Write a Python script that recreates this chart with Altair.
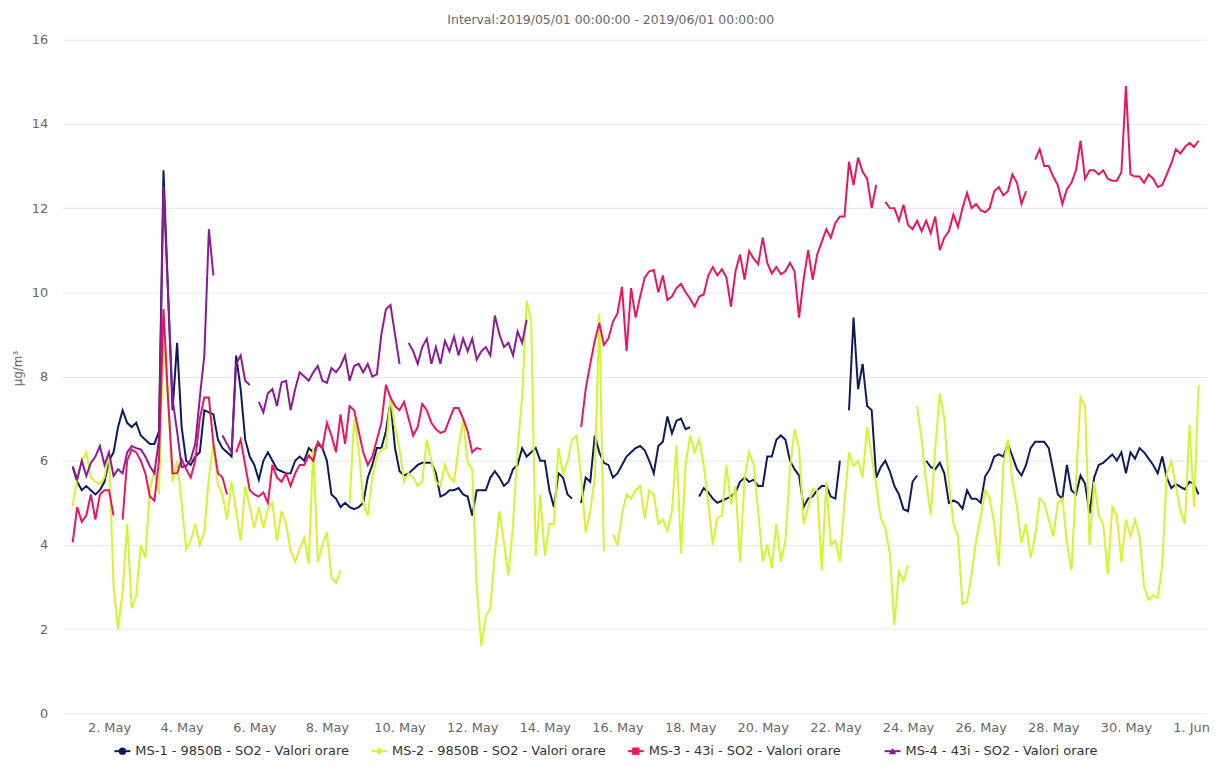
import altair as alt
import pandas as pd

N = None

SERIES = [
    "MS-1 - 9850B - SO2 - Valori orare",
    "MS-2 - 9850B - SO2 - Valori orare",
    "MS-3 - 43i - SO2 - Valori orare",
    "MS-4 - 43i - SO2 - Valori orare",
]
COLORS = ["#0d1b5e", "#d2f52e", "#ec145f", "#8c1a98"]
MARKERS = ["circle", "diamond", "square", "triangle-up"]
TITLE = "Interval:2019/05/01 00:00:00 - 2019/06/01 00:00:00"
Y_TITLE = "µg/m³"
Y_TICKS = [0, 2, 4, 6, 8, 10, 12, 14, 16]
X_TICK_DAYS = [(5, d) for d in range(2, 31, 2)] + [(6, 1)]

# hourly readings sampled every 3 hours from 2019-05-01 00:00 (8 per day), last = 2019-06-01 00:00
ms1 = [
    5.85, 5.5, 5.3, 5.4, 5.3, 5.2, 5.3, 5.5,
    6.0, 6.2, 6.8, 7.2, 6.9, 6.8, 6.9, 6.6,
    6.5, 6.4, 6.4, 6.7, 12.9, 10.0, 7.2, 8.8,
    6.8, 6.0, 5.9, 6.1, 6.2, 7.2, 7.15, 7.1,
    6.5, 6.3, 6.2, 6.1, 8.5, 7.7, 6.5, 6.1,
    5.9, 5.55, 6.0, 6.2, 6.0, 5.8, 5.75, 5.7,
    5.7, 6.0, 6.1, 6.0, 6.3, 6.2, 6.4, 6.3,
    6.0, 5.2, 5.1, 4.9, 5.0, 4.9, 4.85, 4.9,
    5.0, 5.6, 5.9, 6.3, 6.3, 6.7, 7.4, 6.3,
    5.75, 5.65, 5.7, 5.8, 5.9, 5.95, 5.95, 5.95,
    5.7, 5.15, 5.2, 5.3, 5.3, 5.35, 5.2, 5.15,
    4.7, 5.3, 5.3, 5.3, 5.6, 5.75, 5.6, 5.4,
    5.5, 5.8, 5.9, 6.3, 6.1, 6.2, 6.3, 6.0,
    6.0, 5.3, 4.9, 5.7, 5.6, 5.2, 5.1, N,
    5.0, 5.6, 5.5, 6.6, 6.2, 5.95, 5.9, 5.6,
    5.7, 5.9, 6.1, 6.2, 6.3, 6.35, 6.25, 6.0,
    5.7, 6.35, 6.45, 7.05, 6.65, 6.95, 7.0, 6.75,
    6.8, N, 5.15, 5.35, 5.25, 5.1, 5.0, 5.05,
    5.1, 5.15, 5.25, 5.5, 5.6, 5.5, 5.55, 5.4,
    5.4, 6.1, 6.1, 6.5, 6.6, 6.5, 6.0, 5.8,
    5.65, 4.9, 5.1, 5.15, 5.3, 5.4, 5.4, 5.15,
    5.1, 6.0, N, 7.2, 9.4, 7.7, 8.3, 7.3,
    7.2, 5.6, 5.85, 6.0, 5.75, 5.4, 5.2, 4.85,
    4.8, 5.5, 5.65, N, 6.0, 5.85, 5.8, 5.95,
    5.7, 5.0, 5.06, 5.0, 4.86, 5.3, 5.1, 5.1,
    5.0, 5.63, 5.8, 6.1, 6.15, 6.1, 6.4, 6.1,
    5.8, 5.65, 5.9, 6.3, 6.45, 6.45, 6.45, 6.3,
    5.75, 5.2, 5.1, 5.9, 5.3, 5.2, 5.65, 5.45,
    4.75, 5.6, 5.9, 5.95, 6.05, 6.15, 6.0, 6.2,
    5.7, 6.2, 6.05, 6.3, 6.2, 6.05, 5.9, 5.7,
    6.1, 5.6, 5.35, 5.45, 5.38, 5.32, 5.5, 5.45,
    5.2,
]

ms2 = [
    4.93, 5.56, 6.0, 6.2, 5.6, 5.5, 5.44, 5.6,
    6.2, 3.0, 2.0, 2.9, 4.5, 2.5, 2.8, 4.0,
    3.7, 5.3, 5.8, 5.2, 8.8, 7.4, 5.5, 6.0,
    5.0, 3.9, 4.1, 4.5, 4.0, 4.3, 5.6, 6.4,
    5.43, 5.2, 4.6, 5.5, 4.8, 4.1, 5.4, 4.9,
    4.4, 4.9, 4.4, 4.85, 5.0, 4.1, 4.8, 4.5,
    3.86, 3.6, 3.9, 4.17, 3.55, 6.3, 3.6, 4.0,
    4.3, 3.23, 3.1, 3.4, N, 5.0, 7.0, 6.3,
    5.0, 4.7, 5.6, 6.1, 6.27, 6.3, 7.5, 6.8,
    6.27, 5.5, 5.7, 5.6, 5.4, 5.5, 6.5, 6.0,
    5.5, 5.4, 5.9, 5.6, 5.5, 6.3, 6.98, 5.95,
    5.8, 3.0, 1.6, 2.3, 2.5, 3.82, 4.8, 4.06,
    3.27, 4.5, 6.27, 7.5, 9.8, 9.3, 3.74, 5.2,
    3.74, 4.5, 4.5, 6.3, 5.7, 5.98, 6.5, 6.6,
    5.6, 4.3, 4.8, 5.6, 9.5, 3.85, N, 4.25,
    4.0, 4.72, 5.2, 5.1, 5.3, 5.4, 4.64, 5.3,
    5.2, 4.5, 4.6, 4.33, 4.8, 6.37, 3.8, 5.9,
    6.6, 6.2, 6.5, 5.9, 5.0, 4.0, 4.64, 4.7,
    5.9, 4.96, 5.4, 3.6, 5.6, 6.2, 5.9, 4.8,
    3.6, 4.0, 3.45, 4.5, 3.6, 4.1, 5.8, 6.75,
    6.3, 4.5, 4.9, 5.33, 5.3, 3.4, 5.5, 4.0,
    4.1, 3.6, 5.02, 6.2, 5.88, 6.0, 5.6, 6.8,
    6.1, 5.4, 4.63, 4.4, 3.8, 2.1, 3.37, 3.14,
    3.53, N, 7.3, 6.5, 5.5, 4.7, 6.3, 7.6,
    7.0, 5.5, 4.5, 4.2, 2.6, 2.65, 3.3, 4.1,
    4.67, 5.3, 5.1, 4.5, 3.5, 5.9, 6.5, 5.5,
    4.9, 4.05, 4.5, 3.7, 4.2, 5.1, 5.0, 4.6,
    4.2, 5.0, 5.1, 4.05, 3.4, 5.5, 7.5, 7.3,
    4.0, 5.5, 4.7, 4.5, 3.3, 4.9, 4.7, 3.6,
    4.6, 4.2, 4.6, 4.2, 3.0, 2.7, 2.8, 2.74,
    3.5, 5.7, 5.98, 5.4, 4.8, 4.5, 6.85, 4.9,
    7.8,
]

ms3 = [
    4.06, 4.9, 4.55, 4.7, 5.2, 4.6, 5.2, 5.3,
    5.3, 4.7, N, 4.6, 6.0, 6.27, 6.2, 6.0,
    5.7, 5.15, 5.05, 6.0, 9.6, 7.5, 5.7, 5.7,
    6.03, 5.8, 5.6, 6.0, 7.0, 7.5, 7.5, 6.4,
    5.7, 5.6, 5.2, N, 6.2, 6.5, 5.9, 5.3,
    5.2, 5.15, 5.25, 5.0, 5.9, 5.6, 5.5, 5.7,
    5.4, 5.7, 5.9, 5.9, 6.13, 6.0, 6.45, 6.3,
    6.9, 6.6, 6.2, 7.1, 6.4, 7.3, 7.2, 6.7,
    6.2, 5.9, 6.1, 6.5, 6.9, 7.8, 7.5, 7.3,
    7.2, 7.4, 7.0, 6.6, 6.8, 7.35, 7.2, 6.9,
    6.75, 6.66, 6.7, 6.98, 7.25, 7.25, 7.0, 6.7,
    6.2, 6.3, 6.27, N, N, N, N, N,
    N, N, N, N, N, N, N, N,
    N, N, N, N, N, N, N, N,
    6.8, 7.7, 8.3, 8.85, 9.27, 8.75, 8.9, 9.3,
    9.5, 10.13, 8.6, 10.1, 9.4, 9.9, 10.35, 10.5,
    10.53, 10.0, 10.4, 9.82, 9.9, 10.1, 10.2, 10.0,
    9.85, 9.66, 9.9, 9.95, 10.4, 10.6, 10.4, 10.55,
    10.35, 9.66, 10.5, 10.9, 10.3, 10.98, 10.8, 10.67,
    11.3, 10.7, 10.45, 10.6, 10.43, 10.5, 10.7, 10.5,
    9.4, 10.3, 11.0, 10.3, 10.9, 11.2, 11.5, 11.3,
    11.65, 11.8, 11.8, 13.1, 12.55, 13.2, 12.86, 12.7,
    12.0, 12.55, N, 12.15, 12.0, 12.0, 11.7, 12.08,
    11.6, 11.5, 11.7, 11.45, 11.7, 11.4, 11.8, 11.0,
    11.3, 11.45, 11.85, 11.55, 12.0, 12.36, 12.0, 12.1,
    11.95, 11.9, 12.0, 12.4, 12.5, 12.3, 12.4, 12.8,
    12.6, 12.1, 12.4, N, 13.15, 13.4, 13.0, 13.0,
    12.75, 12.54, 12.1, 12.45, 12.6, 12.9, 13.6, 12.7,
    12.9, 12.9, 12.8, 12.9, 12.7, 12.65, 12.65, 12.85,
    14.9, 12.8, 12.75, 12.75, 12.6, 12.8, 12.7, 12.5,
    12.55, 12.8, 13.06, 13.4, 13.3, 13.45, 13.55, 13.45,
    13.6,
]

ms4 = [
    5.87, 5.56, 6.0, 5.64, 5.95, 6.1, 6.35, 5.9,
    6.2, 5.64, 5.8, 5.7, 6.2, 6.35, 6.3, 6.27,
    6.1, 5.87, 5.7, 6.5, 12.5, 10.0, 7.45, 6.7,
    5.85, 5.87, 6.03, 6.4, 7.5, 8.5, 11.5, 10.4,
    N, 6.6, 6.4, 6.2, 8.3, 8.5, 7.9, 7.8,
    N, 7.4, 7.15, 7.6, 7.7, 7.3, 7.86, 7.9,
    7.2, 7.7, 8.1, 8.0, 7.9, 8.1, 8.25, 7.9,
    7.85, 8.2, 8.1, 8.25, 8.5, 7.9, 8.25, 8.3,
    8.1, 8.3, 8.0, 8.05, 9.0, 9.6, 9.7, 9.0,
    8.3, N, 8.8, 8.6, 8.3, 8.7, 8.9, 8.3,
    8.7, 8.3, 8.85, 8.6, 8.95, 8.5, 8.9, 8.6,
    8.9, 8.4, 8.6, 8.7, 8.5, 9.45, 9.0, 8.7,
    8.8, 8.5, 9.07, 8.8, 9.35, N, N, N,
] + [N] * 145

VALUES = [ms1, ms2, ms3, ms4]
times = pd.date_range("2019-05-01 00:00", periods=len(ms1), freq="3h")
for v in VALUES:
    assert len(v) == len(times), len(v)

rows = []
for name, vals in zip(SERIES, VALUES):
    for t, v in zip(times, vals):
        rows.append({"time": t, "value": v, "series": name})
df = pd.DataFrame(rows)
df["value"] = df["value"].astype(float)

FONT = "DejaVu Sans"
color_scale = alt.Scale(domain=SERIES, range=COLORS)

x_enc = alt.X(
    "time:T",
    title=None,
    scale=alt.Scale(domain=[
        alt.DateTime(year=2019, month=4, date=30, hours=17, minutes=25),
        alt.DateTime(year=2019, month=6, date=1, hours=5, minutes=35),
    ]),
    axis=alt.Axis(
        values=[alt.DateTime(year=2019, month=m, date=d) for m, d in X_TICK_DAYS],
        format="%-d. %b",
        grid=False,
        ticks=False,
        domain=False,
        labelPadding=8,
        labelFlush=15,
        labelFlushOffset=11,
        labelOverlap=False,
    ),
)
y_enc = alt.Y(
    "value:Q",
    scale=alt.Scale(domain=[0, 16], nice=False),
    axis=alt.Axis(
        values=Y_TICKS,
        title=Y_TITLE,
        titleAngle=270,
        titleX=-45,
        titleY=330,
        titleAlign="center",
        titleBaseline="middle",
        titleFontSize=12,
        titleFontWeight="normal",
        titleColor="#666666",
        titleFont=FONT,
        grid=True,
        gridColor="#e6e6e6",
        ticks=False,
        domain=False,
        labelPadding=15,
    ),
)

lines = alt.Chart(df).mark_line(
    strokeWidth=2, invalid="break-paths-show-domains", interpolate="linear"
).encode(
    x=x_enc,
    y=y_enc,
    color=alt.Color("series:N", scale=color_scale, legend=None),
)

# Legend row drawn below the plot (Highcharts style: line + marker + label)
legend_df = pd.DataFrame({"series": SERIES})
LEG_Y = 715
leg_x = alt.X(
    "series:N",
    scale=alt.Scale(type="point", domain=SERIES, range=[60, 834], padding=0),
    axis=None,
)
leg_base = alt.Chart(legend_df)
leg_line = leg_base.mark_point(
    shape="M-1,0L1,0", size=256, filled=False, strokeWidth=2, opacity=1
).encode(
    x=leg_x, y=alt.value(LEG_Y),
    color=alt.Color("series:N", scale=color_scale, legend=None),
)
leg_marker = leg_base.mark_point(filled=True, size=55, opacity=1).encode(
    x=leg_x, y=alt.value(LEG_Y),
    color=alt.Color("series:N", scale=color_scale, legend=None),
    shape=alt.Shape("series:N", scale=alt.Scale(domain=SERIES, range=MARKERS), legend=None),
)
leg_text = leg_base.mark_text(
    align="left", baseline="middle", dx=13, font=FONT, fontSize=13, color="#333333"
).encode(
    x=leg_x, y=alt.value(LEG_Y),
    text="series:N",
)

chart = alt.layer(lines, leg_line, leg_marker, leg_text).resolve_scale(
    x="independent"
).properties(
    width=1150,
    height=677,
    autosize=alt.AutoSizeParams(type="none"),
    padding={"left": 55, "top": 30, "right": 4, "bottom": 45},
    title=alt.TitleParams(
        TITLE, anchor="middle", frame="bounds", offset=7,
        font=FONT, fontSize=12.5, fontWeight="normal", color="#666666",
    ),
).configure_view(stroke=None).configure_axis(
    labelFont=FONT, labelFontSize=13, labelColor="#666666",
)

chart.save("out.html", embed_options={"renderer": "svg", "actions": False})
